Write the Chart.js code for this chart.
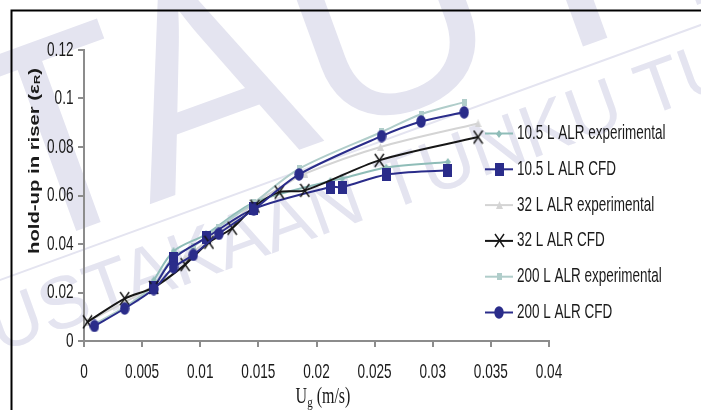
<!DOCTYPE html>
<html>
<head>
<meta charset="utf-8">
<style>
  html, body { margin: 0; padding: 0; background: #ffffff; }
  #wrap { width: 701px; height: 410px; }
</style>
<script src="https://cdn.jsdelivr.net/npm/chart.js@4/dist/chart.umd.min.js"></script>
</head>
<body>
<div id="wrap"><canvas id="chart" width="701" height="410"></canvas></div>
<script>
// Superficial gas velocity Ug (m/s) and riser gas hold-up for each reactor
const ug105Exp   = [0.006, 0.0077, 0.0105, 0.0146, 0.0212, 0.0222, 0.026, 0.0313];
const hold105Exp = [0.025, 0.037, 0.044, 0.057, 0.066, 0.067, 0.0715, 0.0738];

const ug105Cfd   = [0.006, 0.0077, 0.0105, 0.0146, 0.0212, 0.0222, 0.026, 0.0313];
const hold105Cfd = [0.022, 0.034, 0.0425, 0.0545, 0.0635, 0.0635, 0.0686, 0.0704];

const ug32Exp    = [0.0003, 0.0035, 0.006, 0.0087, 0.0108, 0.0128, 0.0147, 0.0168, 0.019, 0.0255, 0.0339];
const hold32Exp  = [0.008, 0.016, 0.023, 0.034, 0.042, 0.049, 0.057, 0.063, 0.069, 0.080, 0.0897];

const ug32Cfd    = [0.0003, 0.0035, 0.006, 0.0087, 0.01075, 0.01275, 0.0147, 0.0168, 0.019, 0.0254, 0.0339];
const hold32Cfd  = [0.0079, 0.0175, 0.0221, 0.0315, 0.0407, 0.0465, 0.0556, 0.0614, 0.0621, 0.0745, 0.0841];

const ug200Exp   = [0.0009, 0.0035, 0.006, 0.0077, 0.0094, 0.0116, 0.0146, 0.0185, 0.0256, 0.029, 0.0327];
const hold200Exp = [0.007, 0.014, 0.023, 0.035, 0.039, 0.047, 0.057, 0.071, 0.0862, 0.0935, 0.0985];

const ug200Cfd   = [0.0009, 0.0035, 0.006, 0.0077, 0.0094, 0.0116, 0.0146, 0.0185, 0.0256, 0.029, 0.0327];
const hold200Cfd = [0.0062, 0.0134, 0.0214, 0.0304, 0.0355, 0.0442, 0.0542, 0.0687, 0.0845, 0.0905, 0.0943];

const seriesLabels = [
  '10.5 L ALR experimental', '10.5 L ALR CFD',
  '32 L ALR experimental', '32 L ALR CFD',
  '200 L ALR experimental', '200 L ALR CFD'
];
const xTickLabels = ['0', '0.005', '0.01', '0.015', '0.02', '0.025', '0.03', '0.035', '0.04'];
const yTickLabels = ['0', '0.02', '0.04', '0.06', '0.08', '0.1', '0.12'];

// ---- styling ----
const NAVY = '#2a2c8a';
const TEAL = '#8fbdb8';
const LIGHTGREY = '#d4d4d4';
const INK = '#161616';
const TEALGREY = '#b0cdca';
const AXIS = '#8c8c8c';
const TEXT = '#1a1a1a';
const SANS = '"Liberation Sans", Arial, sans-serif';
const SERIF = '"Liberation Serif", "Times New Roman", serif';
const SY = 1.47; // vertical stretch of all lettering

function markerCanvas(w, h, paint) {
  const c = document.createElement('canvas');
  c.width = w; c.height = h;
  paint(c.getContext('2d'), w, h);
  return c;
}
const mkCircle = markerCanvas(10, 13, (g, w, h) => {
  g.fillStyle = NAVY; g.beginPath();
  g.ellipse(w / 2, h / 2, w / 2 - 0.3, h / 2 - 0.3, 0, 0, Math.PI * 2); g.fill();
});
const mkSquare = markerCanvas(9, 13, (g, w, h) => { g.fillStyle = NAVY; g.fillRect(0, 0, w, h); });
const mkCross = markerCanvas(11, 15, (g, w, h) => {
  g.strokeStyle = INK; g.lineWidth = 1.4; g.beginPath();
  g.moveTo(1, 1); g.lineTo(w - 1, h - 1); g.moveTo(w - 1, 1); g.lineTo(1, h - 1); g.stroke();
});
const mkDiamond = markerCanvas(6, 8, (g, w, h) => {
  g.fillStyle = TEAL; g.beginPath();
  g.moveTo(w / 2, 0); g.lineTo(w, h / 2); g.lineTo(w / 2, h); g.lineTo(0, h / 2); g.closePath(); g.fill();
});
const mkTriangle = markerCanvas(7, 8, (g, w, h) => {
  g.fillStyle = LIGHTGREY; g.beginPath();
  g.moveTo(w / 2, 0); g.lineTo(w, h); g.lineTo(0, h); g.closePath(); g.fill();
});
const mkSmallSquare = markerCanvas(5, 7, (g, w, h) => { g.fillStyle = TEALGREY; g.fillRect(0, 0, w, h); });

function pts(xs, ys) { return xs.map((x, i) => ({ x: x, y: ys[i] })); }

function series(label, xs, ys, color, marker, order) {
  return {
    label: label, data: pts(xs, ys), showLine: true,
    borderColor: color, backgroundColor: color, borderWidth: 2,
    pointStyle: marker, pointRadius: 5, pointHoverRadius: 5,
    tension: 0.3, order: order, clip: false
  };
}

const datasets = [
  series(seriesLabels[0], ug105Exp, hold105Exp, TEAL, mkDiamond, 5),
  series(seriesLabels[1], ug105Cfd, hold105Cfd, NAVY, mkSquare, 2),
  series(seriesLabels[2], ug32Exp, hold32Exp, LIGHTGREY, mkTriangle, 6),
  series(seriesLabels[3], ug32Cfd, hold32Cfd, INK, mkCross, 1),
  series(seriesLabels[4], ug200Exp, hold200Exp, TEALGREY, mkSmallSquare, 4),
  series(seriesLabels[5], ug200Cfd, hold200Cfd, NAVY, mkCircle, 0)
];

// text with the stretched lettering used throughout the figure
function stretchText(ctx, str, x, y, font, align, baseline) {
  ctx.save();
  ctx.translate(x, y);
  ctx.scale(1, SY);
  ctx.font = font;
  ctx.fillStyle = TEXT;
  ctx.textAlign = align;
  ctx.textBaseline = baseline;
  ctx.fillText(str, 0, 0);
  ctx.restore();
}

// runs of text pieces [string, font, shift]
function drawRuns(ctx, runs) {
  let w = 0;
  runs.forEach(r => { ctx.font = r[1]; w += ctx.measureText(r[0]).width; });
  let x = -w / 2;
  runs.forEach(r => {
    ctx.font = r[1];
    ctx.fillText(r[0], x, r[2]);
    x += ctx.measureText(r[0]).width;
  });
}

const backdrop = {
  id: 'backdrop',
  beforeDraw(chart) {
    const ctx = chart.ctx;
    ctx.save();
    ctx.fillStyle = '#ffffff';
    ctx.fillRect(0, 0, chart.width, chart.height);

    // library watermark
    ctx.fillStyle = '#e4e4f0';
    ctx.strokeStyle = '#e4e4f0';
    ctx.translate(0, 280);
    ctx.rotate(-20 * Math.PI / 180);
    ctx.lineWidth = 2;
    ctx.beginPath(); ctx.moveTo(-60, 0); ctx.lineTo(900, 0); ctx.stroke();
    ctx.textBaseline = 'alphabetic';
    ctx.textAlign = 'left';
    ctx.font = '280px ' + SANS;
    ctx.fillText('PTTAUTHM', 187 - ctx.measureText('PTT').width, -20);
    ctx.font = '74px ' + SANS;
    ctx.fillText('PERPUSTAKAAN TUNKU TUN AMINAH', -26 - ctx.measureText('PERP').width, 68);
    ctx.restore();

    // page frame
    ctx.save();
    ctx.strokeStyle = '#000000';
    ctx.lineWidth = 2;
    ctx.beginPath();
    ctx.moveTo(11.5, 420); ctx.lineTo(11.5, 10.5); ctx.lineTo(720, 10.5);
    ctx.stroke();
    ctx.restore();
  }
};

const lettering = {
  id: 'lettering',
  afterDraw(chart) {
    const ctx = chart.ctx;
    const xs = chart.scales.x, ys = chart.scales.y;
    const tickFont = '13.6px ' + SANS;

    ys.ticks.forEach((t, i) => {
      stretchText(ctx, yTickLabels[i], 73.5, ys.getPixelForValue(t.value), tickFont, 'right', 'middle');
    });
    xs.ticks.forEach((t, i) => {
      stretchText(ctx, xTickLabels[i], xs.getPixelForValue(t.value), 372, tickFont, 'center', 'middle');
    });

    // x title: Ug (m/s)
    ctx.save();
    ctx.translate(323, 403);
    ctx.scale(1, 1.4);
    ctx.fillStyle = TEXT;
    ctx.textBaseline = 'alphabetic';
    drawRuns(ctx, [
      ['U', '16px ' + SERIF, 0],
      ['g', '11px ' + SERIF, 3],
      [' (m/s)', '16px ' + SERIF, 0]
    ]);
    ctx.restore();

    // y title: hold-up in riser (εR)
    ctx.save();
    ctx.translate(35, 161);
    ctx.rotate(-Math.PI / 2);
    ctx.scale(SY, 1);
    ctx.fillStyle = TEXT;
    ctx.textBaseline = 'middle';
    drawRuns(ctx, [
      ['hold-up in riser (ε', 'bold 13.8px ' + SANS, 0],
      ['R', 'bold 9px ' + SANS, 3],
      [')', 'bold 13.8px ' + SANS, 0]
    ]);
    ctx.restore();

    // legend
    chart.data.datasets.forEach((ds, i) => {
      const y = 133.5 + i * 35.8;
      ctx.save();
      ctx.strokeStyle = ds.borderColor;
      ctx.lineWidth = 2;
      ctx.beginPath(); ctx.moveTo(485, y); ctx.lineTo(513, y); ctx.stroke();
      const m = ds.pointStyle;
      ctx.drawImage(m, Math.round(499 - m.width / 2), Math.round(y - m.height / 2));
      ctx.restore();
      stretchText(ctx, ds.label, 517, y, '13.5px ' + SANS, 'left', 'middle');
    });
  }
};

new Chart(document.getElementById('chart'), {
  type: 'scatter',
  data: { datasets: datasets },
  plugins: [backdrop, lettering],
  options: {
    responsive: false,
    devicePixelRatio: 1,
    animation: false,
    layout: { padding: { top: 50, right: 152, left: 0, bottom: 0 } },
    plugins: { legend: { display: false }, tooltip: { enabled: false }, title: { display: false } },
    scales: {
      x: {
        type: 'linear', min: 0, max: 0.04,
        ticks: { stepSize: 0.005, display: false },
        grid: { drawOnChartArea: false, drawTicks: true, tickLength: 6, color: AXIS, lineWidth: 2 },
        border: { color: AXIS, width: 2 },
        afterFit(scale) { scale.height = 69; }
      },
      y: {
        type: 'linear', min: 0, max: 0.12,
        ticks: { stepSize: 0.02, display: false },
        grid: { drawOnChartArea: false, drawTicks: true, tickLength: 6, color: AXIS, lineWidth: 2 },
        border: { color: AXIS, width: 2 },
        afterFit(scale) { scale.width = 84; }
      }
    }
  }
});
</script>
</body>
</html>
